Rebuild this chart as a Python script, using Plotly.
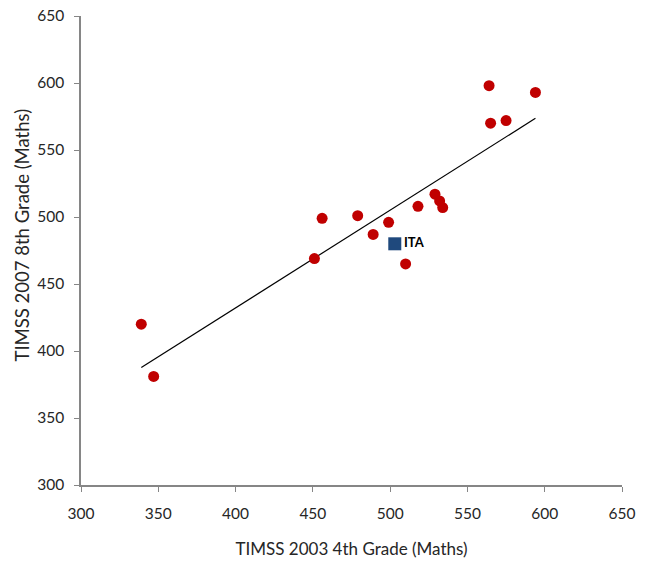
import numpy as np
import plotly.graph_objects as go

# TIMSS 2003 4th grade (x) vs TIMSS 2007 8th grade (y), maths scores
x_countries = [339, 347, 451, 456, 479, 489, 499, 510, 518, 529, 532, 534, 564, 565, 575, 594]
y_countries = [420, 381, 469, 499, 501, 487, 496, 465, 508, 517, 512, 507, 598, 570, 572, 593]

ita_label = ["ITA"]
x_ita = [503]
y_ita = [480]

x_title = "TIMSS 2003 4th Grade (Maths)"
y_title = "TIMSS 2007 8th Grade (Maths)"
tick_vals = [300, 350, 400, 450, 500, 550, 600, 650]

# linear trend through all points
all_x = np.array(x_countries + x_ita, dtype=float)
all_y = np.array(y_countries + y_ita, dtype=float)
slope, intercept = np.polyfit(all_x, all_y, 1)
trend_x = np.array([min(x_countries), max(x_countries)])
trend_y = slope * trend_x + intercept

font_family = "Lato, 'Open Sans', sans-serif"
text_color = "#262626"

fig = go.Figure()
fig.add_trace(go.Scatter(
    x=trend_x, y=trend_y, mode="lines",
    line=dict(color="black", width=1.2), showlegend=False, hoverinfo="skip"))
fig.add_trace(go.Scatter(
    x=x_countries, y=y_countries, mode="markers",
    marker=dict(color="#C00000", size=11, line=dict(width=0)), showlegend=False))
fig.add_trace(go.Scatter(
    x=x_ita, y=y_ita, mode="markers+text", text=ita_label,
    textposition="middle right",
    textfont=dict(family=font_family, size=13, color="black", weight="bold"),
    marker=dict(color="#1F497D", size=13, symbol="square", line=dict(width=0)),
    showlegend=False))

axis_common = dict(
    range=[300, 650], tickvals=tick_vals, showgrid=False, zeroline=False,
    showline=True, linecolor="#868686", linewidth=1.5,
    ticks="outside", tickcolor="#868686", ticklen=5, automargin=False,
    ticklabeloverflow="allow",
    tickfont=dict(family=font_family, size=15.5, color=text_color),
)
fig.update_xaxes(**axis_common, ticklabelstandoff=9,
                 title=dict(text=x_title, font=dict(family=font_family, size=17, color=text_color), standoff=22))
fig.update_yaxes(**axis_common, ticklabelstandoff=7)

fig.add_annotation(
    text=y_title, textangle=-90, xref="paper", yref="paper",
    x=0, y=0.532, xshift=-59, xanchor="center", yanchor="middle",
    showarrow=False, font=dict(family=font_family, size=18.5, color=text_color))

fig.update_layout(
    width=651, height=563,
    margin=dict(l=81, r=29, t=16, b=78),
    plot_bgcolor="white", paper_bgcolor="white",
)

# remove the page's default body margin so the figure fills the window exactly
fig.write_html("out.html", config={"displayModeBar": False},
               post_script="document.body.style.margin='0';")
